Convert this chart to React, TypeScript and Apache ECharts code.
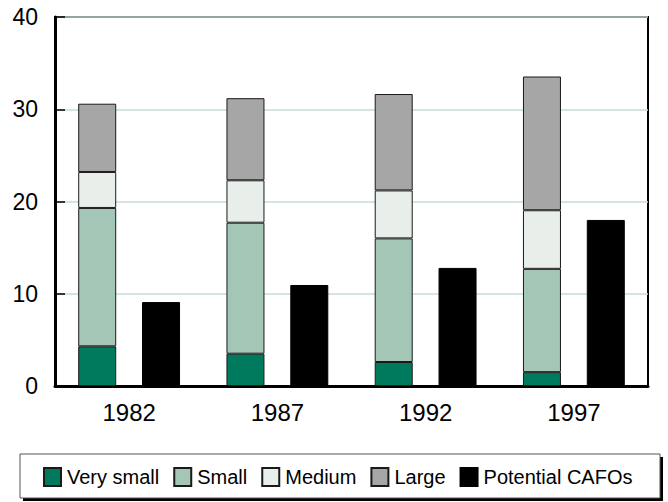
import React, { useEffect, useRef } from "react";
import * as echarts from "echarts";

const years = ["1982", "1987", "1992", "1997"];
const verySmall = [4.3, 3.5, 2.6, 1.5];
const small = [15.0, 14.2, 13.4, 11.2];
const medium = [3.9, 4.6, 5.2, 6.35];
const large = [7.4, 8.9, 10.45, 14.5];
const cafos = [9.1, 10.95, 12.8, 18.0];
const yTicks = [0, 10, 20, 30, 40];

const FONT = "'Liberation Sans', Arial, sans-serif";

export default function App() {
  const ref = useRef<HTMLDivElement>(null);
  useEffect(() => {
    if (!ref.current) return;
    const chart = echarts.init(ref.current, undefined, { renderer: "svg" });
    const stackStyle = (color: string) => ({
      color,
      borderColor: "#1a1a1a",
      borderWidth: 1,
    });
    chart.setOption({
      animation: false,
      textStyle: { fontFamily: FONT },
      graphic: [
        { type: "rect", z: 0, shape: { x: 23, y: 457, width: 640, height: 44 }, style: { fill: "#000" } },
        { type: "rect", z: 0, shape: { x: 20, y: 454, width: 640, height: 44 }, style: { fill: "#fff", stroke: "#555", lineWidth: 1 } },
      ],
      grid: {
        left: 55,
        right: 20,
        top: 17,
        bottom: 116,
        show: true,
        borderColor: "#000",
        borderWidth: 2,
        backgroundColor: "transparent",
      },
      legend: {
        left: 43,
        top: 467,
        padding: 0,
        itemWidth: 17,
        itemHeight: 18,
        itemGap: 14,
        icon: "rect",
        textStyle: { fontSize: 20, color: "#000", fontFamily: FONT, padding: [0, 0, 0, 1] },
        data: ["Very small", "Small", "Medium", "Large", "Potential CAFOs"],
      },
      xAxis: {
        type: "category",
        data: years,
        axisLine: { lineStyle: { color: "#000", width: 3 } },
        axisTick: { show: false },
        axisLabel: { fontSize: 24, color: "#000", margin: 14, fontFamily: FONT },
      },
      yAxis: {
        type: "value",
        min: yTicks[0],
        max: yTicks[yTicks.length - 1],
        interval: 10,
        axisLine: { show: true, lineStyle: { color: "#000", width: 3 } },
        axisTick: { show: true, inside: true, length: 10, lineStyle: { color: "#000", width: 1.5 } },
        axisLabel: { fontSize: 23, color: "#000", margin: 17, fontFamily: FONT },
        splitLine: { show: true, lineStyle: { color: "#c5dcd3", width: 1.5 } },
      },
      series: [
        { name: "Very small", type: "bar", stack: "size", data: verySmall, barWidth: 38, barGap: "68%", itemStyle: stackStyle("#007a5c") },
        { name: "Small", type: "bar", stack: "size", data: small, barWidth: 38, barGap: "68%", itemStyle: stackStyle("#a3c6b6") },
        { name: "Medium", type: "bar", stack: "size", data: medium, barWidth: 38, barGap: "68%", itemStyle: stackStyle("#e8efeb") },
        { name: "Large", type: "bar", stack: "size", data: large, barWidth: 38, barGap: "68%", itemStyle: stackStyle("#a6a6a6") },
        { name: "Potential CAFOs", type: "bar", data: cafos, barWidth: 38, barGap: "68%", itemStyle: { color: "#000", borderColor: "#000", borderWidth: 1 } },
      ],
    });
    return () => chart.dispose();
  }, []);
  return (
    <div
      ref={ref}
      style={{ position: "fixed", left: 0, top: 0, width: 668, height: 502, background: "#fff" }}
    />
  );
}
